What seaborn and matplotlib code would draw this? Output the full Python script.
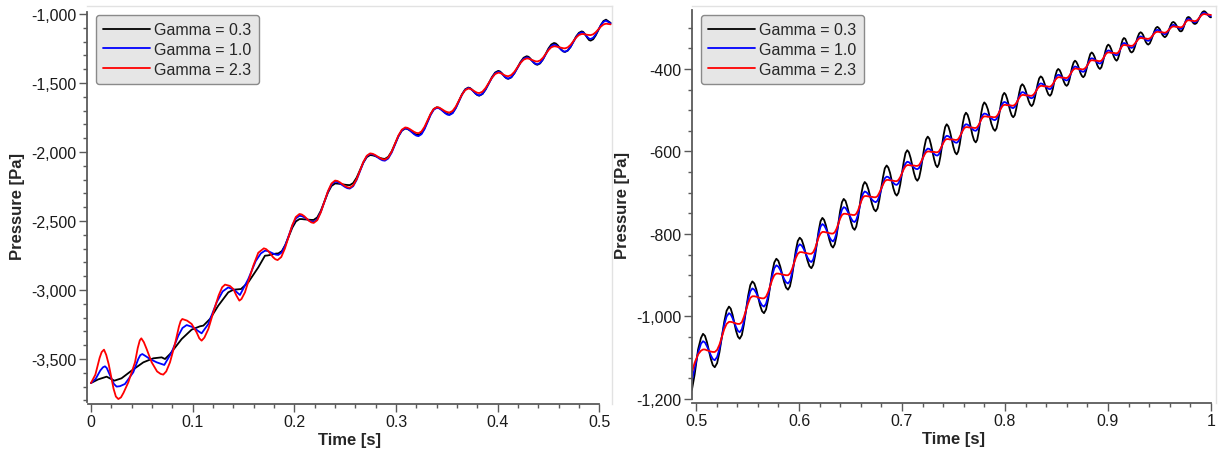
import numpy as np
import matplotlib
matplotlib.use("Agg")
import matplotlib.pyplot as plt
import seaborn as sns
from matplotlib.ticker import MultipleLocator, FuncFormatter, FixedLocator

# ---------------- data: left panel (0 - 0.51 s) ----------------
T_L_BLACK = [0.0, 0.0070, 0.0154, 0.0230, 0.0300, 0.0400, 0.0515, 0.0613, 0.0695, 0.0728,
             0.0777, 0.0840, 0.0892, 0.0990, 0.1072, 0.1105, 0.1170, 0.1252, 0.1350, 0.1400,
             0.1475, 0.1547, 0.1645,
             0.1711, 0.1733, 0.1755, 0.1798, 0.1820, 0.1842, 0.1877, 0.1911, 0.1980, 0.2015,
             0.2050, 0.2073, 0.2097, 0.2143, 0.2167, 0.2190, 0.2225, 0.2260, 0.2330, 0.2365,
             0.2400, 0.2424, 0.2448, 0.2497, 0.2521, 0.2545, 0.2578, 0.2612, 0.2678, 0.2712,
             0.2745, 0.2769, 0.2793, 0.2842, 0.2866, 0.2890, 0.2923, 0.2957, 0.3023, 0.3057,
             0.3090, 0.3112, 0.3133, 0.3177, 0.3198, 0.3220, 0.3250, 0.3280, 0.3340, 0.3370,
             0.3400, 0.3421, 0.3442, 0.3483, 0.3504, 0.3525, 0.3556, 0.3587, 0.3648, 0.3679,
             0.3710, 0.3728, 0.3746, 0.3782, 0.3800, 0.3818, 0.3849, 0.3880, 0.3943, 0.3974,
             0.4005, 0.4021, 0.4038, 0.4070, 0.4087, 0.4103, 0.4133, 0.4163, 0.4224, 0.4254,
             0.4284, 0.4302, 0.4319, 0.4354, 0.4372, 0.4389, 0.4416, 0.4444, 0.4498, 0.4526,
             0.4553, 0.4571, 0.4589, 0.4625, 0.4643, 0.4661, 0.4688, 0.4716, 0.4770, 0.4798,
             0.4825, 0.4840, 0.4854, 0.4884, 0.4898, 0.4913, 0.4938, 0.4963, 0.5014, 0.5039,
             0.5064, 0.5110]
P_L_BLACK = [-3674, -3648, -3628, -3657, -3640, -3584, -3524, -3495, -3488, -3500,
             -3464, -3405, -3355, -3287, -3263, -3258, -3210, -3113, -3017, -2998,
             -2993, -2944, -2836,
             -2751, -2750, -2747, -2739, -2736, -2735, -2718, -2673, -2548, -2503,
             -2486, -2486, -2488, -2491, -2492, -2492, -2474, -2426, -2294, -2246,
             -2228, -2229, -2231, -2237, -2239, -2240, -2225, -2186, -2077, -2037,
             -2022, -2024, -2029, -2043, -2048, -2050, -2035, -1995, -1885, -1845,
             -1830, -1833, -1842, -1865, -1874, -1877, -1864, -1827, -1726, -1689,
             -1676, -1679, -1689, -1715, -1725, -1728, -1715, -1679, -1582, -1546,
             -1533, -1537, -1548, -1577, -1588, -1592, -1580, -1547, -1457, -1424,
             -1412, -1416, -1427, -1456, -1466, -1470, -1459, -1429, -1347, -1317,
             -1306, -1310, -1322, -1353, -1364, -1368, -1358, -1329, -1250, -1221,
             -1210, -1214, -1226, -1259, -1271, -1275, -1265, -1238, -1163, -1136,
             -1126, -1130, -1143, -1176, -1189, -1193, -1183, -1155, -1079, -1051,
             -1041, -1065]

T_L_BLUE = [0.0, 0.0046, 0.0092, 0.0118, 0.0138, 0.0155, 0.0170, 0.0203, 0.0225, 0.0252,
            0.0285, 0.0334, 0.0416, 0.0465, 0.0485, 0.0505, 0.0540, 0.0580, 0.0646, 0.0721,
            0.0793, 0.0859, 0.0900, 0.0941, 0.1006, 0.1050, 0.1088, 0.1154, 0.1236, 0.1295,
            0.1350, 0.1410, 0.1465, 0.1547, 0.1620, 0.1670,
            0.1711, 0.1733, 0.1755, 0.1798, 0.1820, 0.1842, 0.1877, 0.1911, 0.1980, 0.2015,
            0.2050, 0.2073, 0.2097, 0.2143, 0.2167, 0.2190, 0.2225, 0.2260, 0.2330, 0.2365,
            0.2400, 0.2424, 0.2448, 0.2497, 0.2521, 0.2545, 0.2578, 0.2612, 0.2678, 0.2712,
            0.2745, 0.2769, 0.2793, 0.2842, 0.2866, 0.2890, 0.2923, 0.2957, 0.3023, 0.3057,
            0.3090, 0.3112, 0.3133, 0.3177, 0.3198, 0.3220, 0.3250, 0.3280, 0.3340, 0.3370,
            0.3400, 0.3421, 0.3442, 0.3483, 0.3504, 0.3525, 0.3556, 0.3587, 0.3648, 0.3679,
            0.3710, 0.3728, 0.3746, 0.3782, 0.3800, 0.3818, 0.3849, 0.3880, 0.3943, 0.3974,
            0.4005, 0.4021, 0.4038, 0.4070, 0.4087, 0.4103, 0.4133, 0.4163, 0.4224, 0.4254,
            0.4284, 0.4302, 0.4319, 0.4354, 0.4372, 0.4389, 0.4416, 0.4444, 0.4498, 0.4526,
            0.4553, 0.4571, 0.4589, 0.4625, 0.4643, 0.4661, 0.4688, 0.4716, 0.4770, 0.4798,
            0.4825, 0.4840, 0.4854, 0.4884, 0.4898, 0.4913, 0.4938, 0.4963, 0.5014, 0.5039,
            0.5064, 0.5110]
P_L_BLUE = [-3674, -3644, -3583, -3560, -3553, -3565, -3590, -3645, -3680, -3700,
            -3697, -3681, -3596, -3500, -3472, -3464, -3480, -3500, -3524, -3543,
            -3452, -3331, -3275, -3254, -3270, -3295, -3314, -3246, -3089, -3010,
            -2981, -3000, -3036, -2920, -2790, -2735,
            -2715, -2717, -2723, -2738, -2744, -2746, -2727, -2675, -2533, -2481,
            -2462, -2465, -2473, -2496, -2504, -2507, -2488, -2434, -2288, -2235,
            -2215, -2218, -2228, -2253, -2262, -2265, -2248, -2202, -2077, -2031,
            -2014, -2017, -2026, -2051, -2060, -2063, -2047, -2004, -1887, -1844,
            -1828, -1832, -1842, -1871, -1881, -1885, -1871, -1834, -1731, -1694,
            -1680, -1683, -1693, -1719, -1729, -1732, -1719, -1683, -1585, -1549,
            -1536, -1540, -1550, -1577, -1586, -1590, -1579, -1547, -1461, -1430,
            -1418, -1421, -1431, -1456, -1465, -1468, -1458, -1430, -1353, -1324,
            -1314, -1317, -1327, -1352, -1361, -1364, -1355, -1329, -1258, -1232,
            -1222, -1225, -1235, -1260, -1270, -1273, -1264, -1238, -1168, -1142,
            -1133, -1136, -1145, -1169, -1178, -1181, -1172, -1148, -1081, -1057,
            -1048, -1068]

T_L_RED = [0.0, 0.0043, 0.0085, 0.0105, 0.0128, 0.0150, 0.0175, 0.0222, 0.0245, 0.0269,
           0.0295, 0.0320, 0.0367, 0.0433, 0.0460, 0.0480, 0.0495, 0.0520, 0.0547, 0.0597,
           0.0650, 0.0685, 0.0711, 0.0740, 0.0777, 0.0826, 0.0865, 0.0882, 0.0898, 0.0945,
           0.0990, 0.1039, 0.1065, 0.1088, 0.1115, 0.1154, 0.1203, 0.1255, 0.1290, 0.1318,
           0.1365, 0.1400, 0.1430, 0.1459, 0.1480, 0.1514, 0.1596, 0.1645,
           0.1700, 0.1723, 0.1745, 0.1790, 0.1813, 0.1835, 0.1871, 0.1907, 0.1978, 0.2014,
           0.2050, 0.2073, 0.2097, 0.2143, 0.2167, 0.2190, 0.2225, 0.2260, 0.2330, 0.2365,
           0.2400, 0.2424, 0.2448, 0.2497, 0.2521, 0.2545, 0.2578, 0.2612, 0.2678, 0.2712,
           0.2745, 0.2769, 0.2793, 0.2842, 0.2866, 0.2890, 0.2923, 0.2957, 0.3023, 0.3057,
           0.3090, 0.3112, 0.3133, 0.3177, 0.3198, 0.3220, 0.3250, 0.3280, 0.3340, 0.3370,
           0.3400, 0.3421, 0.3442, 0.3483, 0.3504, 0.3525, 0.3556, 0.3587, 0.3648, 0.3679,
           0.3710, 0.3728, 0.3746, 0.3782, 0.3800, 0.3818, 0.3849, 0.3880, 0.3943, 0.3974,
           0.4005, 0.4021, 0.4038, 0.4070, 0.4087, 0.4103, 0.4133, 0.4163, 0.4224, 0.4254,
           0.4284, 0.4302, 0.4319, 0.4354, 0.4372, 0.4389, 0.4416, 0.4444, 0.4498, 0.4526,
           0.4553, 0.4571, 0.4589, 0.4625, 0.4643, 0.4661, 0.4688, 0.4716, 0.4770, 0.4798,
           0.4825, 0.4840, 0.4854, 0.4884, 0.4898, 0.4913, 0.4938, 0.4963, 0.5014, 0.5039,
           0.5064, 0.5110]
P_L_RED = [-3674, -3614, -3492, -3450, -3432, -3470, -3540, -3715, -3772, -3790,
           -3778, -3745, -3669, -3524, -3420, -3365, -3350, -3378, -3427, -3524,
           -3590, -3608, -3613, -3590, -3524, -3391, -3265, -3225, -3210, -3222,
           -3246, -3307, -3350, -3367, -3345, -3283, -3162, -3040, -2980, -2961,
           -2970, -2993, -3040, -3077, -3065, -3017, -2824, -2730,
           -2698, -2704, -2719, -2762, -2777, -2783, -2761, -2699, -2533, -2471,
           -2449, -2453, -2465, -2498, -2510, -2514, -2494, -2437, -2284, -2228,
           -2207, -2210, -2220, -2246, -2255, -2259, -2242, -2197, -2072, -2027,
           -2010, -2013, -2021, -2044, -2052, -2055, -2040, -1997, -1880, -1838,
           -1822, -1825, -1833, -1854, -1861, -1864, -1851, -1817, -1723, -1688,
           -1676, -1678, -1686, -1705, -1711, -1714, -1702, -1671, -1584, -1552,
           -1540, -1542, -1548, -1565, -1571, -1573, -1563, -1536, -1462, -1435,
           -1425, -1427, -1432, -1445, -1449, -1451, -1442, -1419, -1354, -1331,
           -1322, -1323, -1328, -1339, -1343, -1344, -1337, -1317, -1262, -1241,
           -1234, -1235, -1238, -1245, -1248, -1249, -1242, -1223, -1171, -1152,
           -1145, -1145, -1147, -1151, -1152, -1153, -1147, -1132, -1091, -1076,
           -1070, -1075]

# ---------------- data: right panel (0.5 - 1.0 s) ----------------
T_R = [0.4960, 0.4987, 0.5020, 0.5048,
       0.5068, 0.5087, 0.5106, 0.5144, 0.5163, 0.5182, 0.5205, 0.5228, 0.5274, 0.5297,
       0.5320, 0.5337, 0.5355, 0.5389, 0.5407, 0.5424, 0.5445, 0.5465, 0.5506, 0.5527,
       0.5547, 0.5566, 0.5585, 0.5622, 0.5641, 0.5660, 0.5680, 0.5700, 0.5740, 0.5760,
       0.5780, 0.5799, 0.5818, 0.5855, 0.5874, 0.5893, 0.5912, 0.5931, 0.5969, 0.5988,
       0.6007, 0.6026, 0.6045, 0.6082, 0.6101, 0.6120, 0.6138, 0.6156, 0.6191, 0.6209,
       0.6227, 0.6244, 0.6261, 0.6296, 0.6313, 0.6330, 0.6347, 0.6365, 0.6399, 0.6417,
       0.6434, 0.6452, 0.6469, 0.6505, 0.6522, 0.6540, 0.6556, 0.6573, 0.6605, 0.6622,
       0.6638, 0.6656, 0.6674, 0.6709, 0.6727, 0.6745, 0.6763, 0.6780, 0.6816, 0.6833,
       0.6851, 0.6867, 0.6884, 0.6916, 0.6933, 0.6949, 0.6966, 0.6983, 0.7017, 0.7034,
       0.7051, 0.7067, 0.7084, 0.7116, 0.7133, 0.7149, 0.7166, 0.7183, 0.7216, 0.7233,
       0.7250, 0.7266, 0.7281, 0.7312, 0.7328, 0.7343, 0.7358, 0.7373, 0.7404, 0.7419,
       0.7434, 0.7450, 0.7466, 0.7499, 0.7515, 0.7531, 0.7546, 0.7561, 0.7591, 0.7606,
       0.7621, 0.7637, 0.7653, 0.7684, 0.7700, 0.7716, 0.7730, 0.7744, 0.7771, 0.7785,
       0.7799, 0.7816, 0.7834, 0.7868, 0.7886, 0.7903, 0.7918, 0.7933, 0.7963, 0.7978,
       0.7993, 0.8007, 0.8022, 0.8051, 0.8066, 0.8080, 0.8095, 0.8109, 0.8139, 0.8153,
       0.8168, 0.8183, 0.8198, 0.8229, 0.8244, 0.8259, 0.8274, 0.8288, 0.8318, 0.8332,
       0.8347, 0.8362, 0.8377, 0.8407, 0.8422, 0.8437, 0.8450, 0.8464, 0.8490, 0.8504,
       0.8517, 0.8531, 0.8544, 0.8572, 0.8585, 0.8599, 0.8613, 0.8626, 0.8653, 0.8667,
       0.8680, 0.8693, 0.8707, 0.8733, 0.8747, 0.8760, 0.8774, 0.8787, 0.8815, 0.8828,
       0.8842, 0.8855, 0.8869, 0.8895, 0.8909, 0.8922, 0.8936, 0.8949, 0.8976, 0.8990,
       0.9003, 0.9017, 0.9030, 0.9057, 0.9071, 0.9084, 0.9096, 0.9108, 0.9131, 0.9143,
       0.9155, 0.9168, 0.9180, 0.9205, 0.9218, 0.9230, 0.9245, 0.9259, 0.9288, 0.9303,
       0.9317, 0.9329, 0.9342, 0.9366, 0.9379, 0.9391, 0.9406, 0.9420, 0.9450, 0.9464,
       0.9479, 0.9491, 0.9504, 0.9528, 0.9541, 0.9553, 0.9567, 0.9580, 0.9607, 0.9621,
       0.9634, 0.9647, 0.9659, 0.9684, 0.9697, 0.9709, 0.9721, 0.9733, 0.9756, 0.9768,
       0.9780, 0.9791, 0.9802, 0.9823, 0.9834, 0.9845, 0.9860, 0.9874, 0.9903, 0.9918,
       0.9932, 0.9943, 0.9955, 0.9977, 0.9989, 1.0000]
P_R_BLACK = [-1178, -1140, -1080, -1052,
             -1042, -1047, -1062, -1103, -1118, -1123, -1113, -1086, -1013, -986,
             -976, -981, -996, -1035, -1049, -1054, -1045, -1019, -950, -924,
             -915, -920, -934, -973, -987, -992, -983, -959, -893, -869,
             -860, -865, -879, -916, -930, -935, -927, -904, -840, -817,
             -809, -814, -828, -864, -878, -883, -875, -853, -792, -769,
             -761, -766, -779, -815, -828, -833, -825, -804, -745, -723,
             -715, -720, -734, -771, -785, -790, -782, -761, -703, -682,
             -674, -679, -692, -727, -740, -745, -738, -717, -662, -641,
             -634, -639, -652, -689, -702, -707, -700, -680, -625, -604,
             -597, -602, -616, -652, -666, -671, -664, -644, -591, -571,
             -564, -569, -583, -619, -633, -638, -631, -612, -560, -541,
             -534, -539, -552, -589, -602, -607, -600, -582, -531, -513,
             -506, -511, -524, -560, -573, -578, -572, -554, -505, -488,
             -481, -486, -498, -533, -545, -550, -544, -527, -481, -464,
             -458, -462, -473, -502, -513, -517, -512, -497, -457, -442,
             -437, -441, -450, -477, -486, -490, -485, -472, -436, -423,
             -418, -421, -430, -453, -462, -465, -461, -449, -416, -404,
             -400, -403, -410, -431, -438, -441, -437, -426, -395, -384,
             -380, -383, -390, -410, -417, -420, -416, -405, -375, -364,
             -360, -363, -370, -390, -397, -400, -396, -385, -356, -345,
             -341, -344, -351, -370, -377, -380, -376, -366, -339, -329,
             -325, -327, -334, -351, -358, -360, -357, -348, -323, -314,
             -311, -313, -318, -334, -339, -341, -338, -330, -309, -301,
             -298, -300, -304, -317, -321, -323, -320, -314, -295, -288,
             -286, -288, -292, -303, -308, -309, -307, -300, -283, -276,
             -274, -275, -278, -287, -290, -291, -289, -283, -268, -262,
             -260, -261, -264, -271, -274, -275]
P_R_BLUE = [-1156, -1125, -1088, -1066,
            -1060, -1063, -1072, -1094, -1103, -1106, -1098, -1078, -1020, -1000,
            -992, -995, -1004, -1026, -1035, -1038, -1031, -1012, -958, -939,
            -932, -935, -943, -965, -973, -976, -969, -951, -901, -883,
            -876, -879, -887, -909, -917, -920, -914, -896, -849, -831,
            -825, -828, -836, -857, -865, -868, -862, -845, -799, -782,
            -776, -779, -787, -808, -815, -818, -812, -797, -756, -741,
            -735, -737, -744, -762, -769, -771, -766, -753, -716, -702,
            -697, -699, -704, -717, -721, -723, -719, -708, -677, -665,
            -661, -662, -666, -676, -680, -681, -677, -667, -639, -629,
            -625, -626, -630, -639, -642, -643, -640, -631, -606, -597,
            -593, -594, -597, -606, -609, -610, -607, -598, -574, -565,
            -562, -563, -566, -575, -578, -579, -576, -568, -545, -537,
            -534, -535, -538, -546, -549, -550, -547, -540, -519, -511,
            -508, -509, -512, -520, -523, -524, -521, -513, -491, -483,
            -480, -481, -484, -491, -494, -495, -492, -485, -466, -459,
            -456, -457, -460, -467, -470, -471, -469, -462, -444, -437,
            -435, -436, -439, -445, -448, -449, -447, -440, -423, -416,
            -414, -415, -418, -424, -427, -428, -426, -420, -403, -396,
            -394, -395, -397, -404, -406, -407, -405, -399, -382, -376,
            -374, -375, -377, -384, -386, -387, -385, -379, -363, -357,
            -355, -356, -358, -364, -366, -367, -365, -360, -345, -339,
            -337, -338, -340, -346, -348, -349, -347, -342, -328, -323,
            -321, -322, -324, -329, -331, -332, -330, -325, -312, -307,
            -305, -306, -308, -313, -315, -316, -314, -310, -299, -295,
            -293, -294, -296, -300, -302, -303, -301, -297, -284, -280,
            -278, -279, -280, -285, -286, -287, -285, -281, -270, -265,
            -264, -265, -266, -270, -271, -272]
P_R_RED = [-1135, -1112, -1092, -1083,
           -1080, -1080, -1082, -1085, -1086, -1086, -1081, -1068, -1031, -1018,
           -1013, -1013, -1014, -1017, -1018, -1018, -1014, -1001, -968, -955,
           -951, -951, -952, -955, -956, -956, -952, -941, -911, -900,
           -896, -896, -897, -899, -900, -900, -896, -886, -858, -848,
           -844, -844, -845, -847, -848, -848, -844, -835, -808, -799,
           -795, -795, -796, -798, -799, -799, -796, -787, -763, -754,
           -751, -751, -752, -753, -754, -754, -751, -743, -720, -711,
           -708, -708, -709, -710, -711, -711, -708, -700, -680, -672,
           -669, -669, -670, -671, -672, -672, -669, -662, -643, -636,
           -633, -633, -634, -634, -635, -635, -633, -626, -609, -602,
           -600, -600, -601, -601, -602, -602, -600, -594, -578, -572,
           -570, -570, -571, -571, -572, -572, -570, -564, -549, -543,
           -541, -541, -542, -542, -543, -543, -541, -536, -522, -517,
           -515, -515, -516, -516, -517, -517, -515, -510, -495, -489,
           -487, -487, -488, -488, -489, -489, -487, -483, -470, -465,
           -463, -463, -464, -464, -465, -465, -463, -459, -447, -443,
           -441, -441, -442, -442, -443, -443, -441, -437, -426, -422,
           -420, -420, -421, -421, -422, -422, -420, -416, -405, -401,
           -399, -399, -400, -400, -401, -401, -399, -396, -385, -380,
           -379, -379, -380, -380, -381, -381, -380, -376, -365, -361,
           -360, -360, -361, -361, -362, -362, -361, -357, -347, -343,
           -342, -342, -343, -343, -344, -344, -343, -339, -330, -326,
           -325, -325, -326, -326, -327, -327, -326, -323, -314, -311,
           -310, -310, -311, -311, -312, -312, -311, -308, -301, -298,
           -297, -297, -298, -298, -299, -299, -298, -295, -286, -283,
           -282, -282, -283, -283, -284, -284, -283, -280, -271, -268,
           -267, -267, -268, -268, -269, -269]

LABELS = ["Gamma = 0.3", "Gamma = 1.0", "Gamma = 2.3"]
COLORS = ["#000000", "#0000ff", "#ff0000"]

# ---------------- style ----------------
sns.set_style("white")
plt.rcParams['font.family'] = ['Liberation Sans', 'DejaVu Sans']
FS = 11.5
AX_DARK = "#5a5a5a"
AX_LIGHT = "#e2e2e2"

fig = plt.figure(figsize=(12.21, 4.52), dpi=100)
W, H = 1221.0, 452.0


def add_axes(l, r, t, b):
    return fig.add_axes([l / W, 1 - b / H, (r - l) / W, (b - t) / H])


ax1 = add_axes(87, 612, 7, 405)
ax2 = add_axes(692, 1216, 7, 404)

left_series = [(T_L_BLACK, P_L_BLACK), (T_L_BLUE, P_L_BLUE), (T_L_RED, P_L_RED)]
right_series = [(T_R, P_R_BLACK), (T_R, P_R_BLUE), (T_R, P_R_RED)]

for ax, series in ((ax1, left_series), (ax2, right_series)):
    for (t, p), lab, col in zip(series, LABELS, COLORS):
        sns.lineplot(x=t, y=p, ax=ax, color=col, lw=1.3, label=lab,
                     sort=False, estimator=None, solid_joinstyle='round')

# limits
ax1.set_xlim(-0.0039, 0.5123)
ax1.set_ylim(-3826, -942)
ax2.set_xlim(0.4961, 1.0049)
ax2.set_ylim(-1209.7, -247.4)

yfmt = FuncFormatter(lambda v, p: f"{v:,.0f}")
xfmt = FuncFormatter(lambda v, p: f"{v:g}")

ax1.xaxis.set_major_locator(MultipleLocator(0.1))
ax1.xaxis.set_minor_locator(FixedLocator(np.arange(0, 0.5001, 0.02)))
ax1.yaxis.set_major_locator(MultipleLocator(500))
ax1.yaxis.set_minor_locator(FixedLocator(np.arange(-3800, -999, 100)))
ax2.xaxis.set_major_locator(MultipleLocator(0.1))
ax2.xaxis.set_minor_locator(FixedLocator(np.arange(0.5, 1.0001, 0.02)))
ax2.yaxis.set_major_locator(MultipleLocator(200))
ax2.yaxis.set_minor_locator(FixedLocator(np.arange(-1200, -299, 50)))

spine_bounds = {ax1: ((-0.003, 0.5), (-3810, -985)),
                ax2: ((0.4965, 1.0), (-1200, -256))}

for ax in (ax1, ax2):
    ax.xaxis.set_major_formatter(xfmt)
    ax.yaxis.set_major_formatter(yfmt)
    ax.tick_params(which='both', direction='out', bottom=True, left=True,
                   top=False, right=False, color=AX_DARK, width=1.0)
    ax.tick_params(which='major', length=5.5, labelsize=FS, pad=2,
                   labelcolor='#1a1a1a')
    ax.tick_params(which='minor', length=3)
    for s in ('left', 'bottom'):
        ax.spines[s].set_color(AX_DARK)
        ax.spines[s].set_linewidth(1.3)
    for s in ('top', 'right'):
        ax.spines[s].set_color(AX_LIGHT)
        ax.spines[s].set_linewidth(1.0)
    xb, yb = spine_bounds[ax]
    ax.spines['bottom'].set_bounds(*xb)
    ax.spines['left'].set_bounds(*yb)
    ax.set_xlabel("Time [s]", fontsize=FS + 0.5, fontweight='bold', labelpad=2)
    ax.set_ylabel("Pressure [Pa]", fontsize=FS + 0.5, fontweight='bold')
    ax.yaxis.set_label_coords(-0.1333, 0.5)
    ax.yaxis.label.set_va('center')
    leg = ax.legend(loc='upper left', bbox_to_anchor=(0.0172, 0.9774),
                    borderaxespad=0, frameon=True, fancybox=True,
                    facecolor='#e6e6e6', edgecolor='#8a8a8a', framealpha=1.0,
                    fontsize=FS, handlelength=2.9, handletextpad=0.3,
                    borderpad=0.45, labelspacing=0.3)
    leg.get_frame().set_linewidth(1.0)
    for line in leg.get_lines():
        line.set_linewidth(1.3)

fig.savefig("out.png", dpi=100)
